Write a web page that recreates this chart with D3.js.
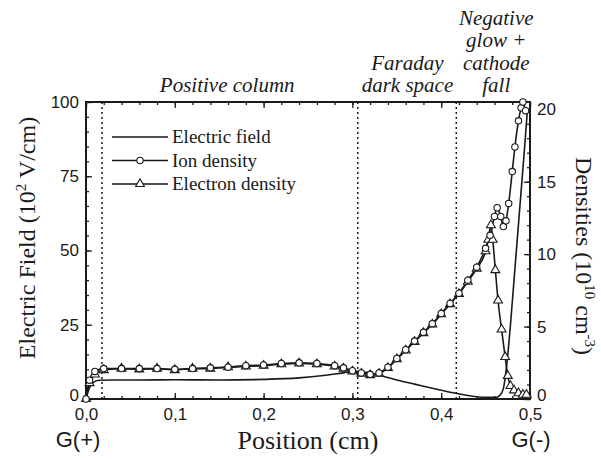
<!DOCTYPE html>
<html><head><meta charset="utf-8">
<script src="https://cdn.jsdelivr.net/npm/d3@7"></script>
<style>
html,body{margin:0;padding:0;background:#fff;}
svg{display:block;}
</style></head>
<body>
<svg id="chart" width="601" height="459"></svg>
<script>
// ---- data ----
const xTicks = [0, 0.1, 0.2, 0.3, 0.4, 0.5];
const xTickLabels = ["0,0", "0,1", "0,2", "0,3", "0,4", "0,5"];
const fieldTicks = [0, 25, 50, 75, 100];
const densityTicks = [0, 5, 10, 15, 20];

const fieldX = [0, 0.003, 0.008, 0.015, 0.03, 0.06, 0.1, 0.15, 0.2, 0.24, 0.27, 0.29, 0.305, 0.315, 0.33, 0.35, 0.37, 0.39, 0.41, 0.43, 0.45, 0.462, 0.466, 0.470, 0.474, 0.478, 0.482, 0.486, 0.490, 0.494, 0.497];
const fieldValues = [0, 3, 5.5, 6.3, 6.4, 6.4, 6.5, 6.4, 6.6, 7.1, 8.0, 8.8, 9.3, 9.0, 8.0, 6.4, 5.0, 3.6, 2.3, 1.2, 0.6, 0.6, 1.2, 3.5, 12, 25, 40, 55, 70, 85, 97];

const ionX = [0, 0.004, 0.01, 0.02, 0.04, 0.06, 0.08, 0.10, 0.12, 0.14, 0.16, 0.18, 0.20, 0.22, 0.24, 0.26, 0.28, 0.29, 0.30, 0.31, 0.32, 0.33, 0.34, 0.35, 0.36, 0.37, 0.38, 0.39, 0.40, 0.41, 0.42, 0.43, 0.44, 0.45, 0.455, 0.46, 0.463, 0.467, 0.470, 0.473, 0.476, 0.480, 0.483, 0.487, 0.490, 0.492, 0.495];
const ionDensity = [0, 1.3, 1.9, 2.1, 2.1, 2.1, 2.1, 2.05, 2.1, 2.15, 2.2, 2.3, 2.35, 2.45, 2.5, 2.45, 2.3, 2.15, 1.95, 1.8, 1.7, 1.8, 2.2, 2.8, 3.4, 4.0, 4.6, 5.2, 5.9, 6.6, 7.3, 8.2, 9.1, 10.4, 11.3, 12.6, 13.2, 12.6, 11.9, 12.3, 13.5, 15.7, 17.4, 19.2, 20.1, 20.5, 19.9];

const electronX = [0, 0.004, 0.01, 0.02, 0.04, 0.06, 0.08, 0.10, 0.12, 0.14, 0.16, 0.18, 0.20, 0.22, 0.24, 0.26, 0.28, 0.29, 0.30, 0.31, 0.32, 0.33, 0.34, 0.35, 0.36, 0.37, 0.38, 0.39, 0.40, 0.41, 0.42, 0.43, 0.44, 0.45, 0.453, 0.456, 0.458, 0.461, 0.464, 0.468, 0.472, 0.475, 0.478, 0.482, 0.487, 0.492, 0.496];
const electronDensity = [0, 1.1, 1.7, 2.0, 2.1, 2.05, 2.1, 2.0, 2.1, 2.1, 2.2, 2.25, 2.3, 2.4, 2.45, 2.4, 2.25, 2.1, 1.9, 1.75, 1.65, 1.75, 2.15, 2.75, 3.35, 3.95, 4.55, 5.15, 5.85, 6.55, 7.25, 8.1, 9.0, 10.2, 11.0, 12.0, 11.0, 8.9, 6.8, 4.8, 2.9, 1.6, 0.9, 0.6, 0.4, 0.3, 0.3];

const regionBoundaries = [0.018, 0.306, 0.417];
const regionLabels = [
  {x: 0.159, lines: ["Positive column"]},
  {x: 0.362, lines: ["Faraday", "dark space"]},
  {x: 0.462, lines: ["Negative", "glow +", "cathode", "fall"]}
];
const legendItems = [
  {label: "Electric field", marker: "none"},
  {label: "Ion density", marker: "circle"},
  {label: "Electron density", marker: "triangle"}
];

// ---- layout ----
const svg = d3.select("#chart");
const L = 86, R = 530, T = 102, B = 399;
const ink = "#1a1a1a";
const x = d3.scaleLinear().domain([0, 0.5]).range([L, R]);
const yE = d3.scaleLinear().domain([0, 100]).range([B, T]);
const yD = d3.scaleLinear().domain([0, 20.5]).range([B, T]);

const serif = "'Liberation Serif','Times New Roman',serif";
const sans = "'Liberation Sans',Arial,sans-serif";

function styleAxis(g){ g.select(".domain").remove(); g.selectAll("line").attr("stroke", ink).attr("stroke-width", 1.3); }

const minorX = d3.range(0, 0.5001, 0.02);
svg.append("g").attr("transform", `translate(0,${B})`)
  .call(d3.axisBottom(x).tickValues(minorX).tickSize(-3).tickFormat(""))
  .call(styleAxis);
svg.append("g").attr("transform", `translate(0,${B})`)
  .call(d3.axisBottom(x).tickValues(xTicks).tickSize(-6).tickPadding(9).tickFormat((d,i)=>xTickLabels[i]))
  .call(styleAxis)
  .call(g=>g.selectAll("text").attr("font-family", sans).attr("font-size", 17).attr("fill", ink).attr("dy","0.71em"));
svg.append("g").attr("transform", `translate(0,${T})`)
  .call(d3.axisTop(x).tickValues(minorX).tickSize(-3).tickFormat(""))
  .call(styleAxis);
svg.append("g").attr("transform", `translate(0,${T})`)
  .call(d3.axisTop(x).tickValues(xTicks).tickSize(-6).tickFormat(""))
  .call(styleAxis);

svg.append("g").attr("transform", `translate(${L},0)`)
  .call(d3.axisLeft(yE).tickValues(d3.range(0, 100.1, 5)).tickSize(-3).tickFormat(""))
  .call(styleAxis);
svg.append("g").attr("transform", `translate(${L},0)`)
  .call(d3.axisLeft(yE).tickValues(fieldTicks).tickSize(-6).tickPadding(7).tickFormat(d3.format("d")))
  .call(styleAxis)
  .call(g=>g.selectAll("text").attr("font-family", sans).attr("font-size", 17).attr("fill", ink)
    .attr("dy", d=> d === 0 ? "0.1em" : "0.32em"));

svg.append("g").attr("transform", `translate(${R},0)`)
  .call(d3.axisRight(yD).tickValues(d3.range(0, 20.1, 1)).tickSize(-3).tickFormat(""))
  .call(styleAxis);
svg.append("g").attr("transform", `translate(${R},0)`)
  .call(d3.axisRight(yD).tickValues(densityTicks).tickSize(-6).tickPadding(7).tickFormat(d3.format("d")))
  .call(styleAxis)
  .call(g=>g.selectAll("text").attr("font-family", sans).attr("font-size", 17).attr("fill", ink)
    .attr("dy", d=> d === 0 ? "0.1em" : "0.32em"));

// frame
svg.append("rect").attr("x", L).attr("y", T).attr("width", R-L).attr("height", B-T)
  .attr("fill", "none").attr("stroke", ink).attr("stroke-width", 2);

// region dotted lines
svg.append("g").selectAll("line").data(regionBoundaries).join("line")
  .attr("x1", d=>x(d)).attr("x2", d=>x(d)).attr("y1", T).attr("y2", B)
  .attr("stroke", ink).attr("stroke-width", 1.5).attr("stroke-dasharray", "2,3");

// region labels
const baseY = 92, lh = 22.5;
regionLabels.forEach(r=>{
  const n = r.lines.length;
  const t = svg.append("text").attr("x", x(r.x)).attr("text-anchor", "middle")
    .attr("font-family", serif).attr("font-style", "italic").attr("font-size", 21).attr("fill", ink);
  r.lines.forEach((ln, i)=>{
    t.append("tspan").attr("x", x(r.x)).attr("y", baseY - (n-1-i)*lh).text(ln);
  });
});

// curves
const fieldData = fieldX.map((d,i)=>({x:d, y:fieldValues[i]}));
const ionData = ionX.map((d,i)=>({x:d, y:ionDensity[i]}));
const electronData = electronX.map((d,i)=>({x:d, y:electronDensity[i]}));

const lineE = d3.line().x(d=>x(d.x)).y(d=>yE(d.y)).curve(d3.curveMonotoneX);
const lineD = d3.line().x(d=>x(d.x)).y(d=>yD(d.y)).curve(d3.curveMonotoneX);

svg.append("path").attr("d", lineE(fieldData)).attr("fill","none").attr("stroke", ink).attr("stroke-width", 1.6);
svg.append("path").attr("d", lineD(electronData)).attr("fill","none").attr("stroke", ink).attr("stroke-width", 1.6);
svg.append("path").attr("d", lineD(ionData)).attr("fill","none").attr("stroke", ink).attr("stroke-width", 1.6);

const tri = d3.symbol().type(d3.symbolTriangle).size(34);
svg.append("g").selectAll("path").data(electronData).join("path")
  .attr("d", tri).attr("transform", d=>`translate(${x(d.x)},${yD(d.y)})`)
  .attr("fill", "#fff").attr("stroke", ink).attr("stroke-width", 1.1);
svg.append("g").selectAll("circle").data(ionData).join("circle")
  .attr("cx", d=>x(d.x)).attr("cy", d=>yD(d.y)).attr("r", 3.2)
  .attr("fill", "#fff").attr("stroke", ink).attr("stroke-width", 1.1);

// legend
const lg = svg.append("g");
legendItems.forEach((it, i)=>{
  const yy = 137 + i*23.5;
  lg.append("line").attr("x1", 112).attr("x2", 168).attr("y1", yy).attr("y2", yy)
    .attr("stroke", ink).attr("stroke-width", 1.6);
  if (it.marker === "circle") {
    lg.append("circle").attr("cx", 140).attr("cy", yy).attr("r", 3.2)
      .attr("fill", "#fff").attr("stroke", ink).attr("stroke-width", 1.1);
  } else if (it.marker === "triangle") {
    lg.append("path").attr("d", tri).attr("transform", `translate(140,${yy})`)
      .attr("fill", "#fff").attr("stroke", ink).attr("stroke-width", 1.1);
  }
  lg.append("text").attr("x", 172).attr("y", yy + 6).attr("font-family", serif)
    .attr("font-size", 19).attr("fill", ink).text(it.label);
});

// axis titles
const lt = svg.append("text").attr("transform", "translate(35,238) rotate(-90)")
  .attr("text-anchor", "middle").attr("font-family", serif).attr("font-size", 24).attr("fill", ink);
lt.append("tspan").text("Electric Field (10");
lt.append("tspan").attr("font-size", 15).attr("dy", -9).text("2");
lt.append("tspan").attr("dy", 9).text(" V/cm)");

const rt = svg.append("text").attr("transform", "translate(576,256) rotate(90)")
  .attr("text-anchor", "middle").attr("font-family", serif).attr("font-size", 24).attr("fill", ink);
rt.append("tspan").text("Densities (10");
rt.append("tspan").attr("font-size", 15).attr("dy", -9).text("10");
rt.append("tspan").attr("dy", 9).text(" cm");
rt.append("tspan").attr("font-size", 15).attr("dy", -9).text("-3");
rt.append("tspan").attr("dy", 9).text(")");

svg.append("text").attr("x", (L+R)/2).attr("y", 449).attr("text-anchor", "middle")
  .attr("font-family", serif).attr("font-size", 26).attr("fill", ink).text("Position (cm)");
svg.append("text").attr("x", 78).attr("y", 447).attr("text-anchor", "middle")
  .attr("font-family", sans).attr("font-size", 22).attr("fill", ink).text("G(+)");
svg.append("text").attr("x", 531).attr("y", 447).attr("text-anchor", "middle")
  .attr("font-family", sans).attr("font-size", 22).attr("fill", ink).text("G(-)");
</script>
</body></html>
